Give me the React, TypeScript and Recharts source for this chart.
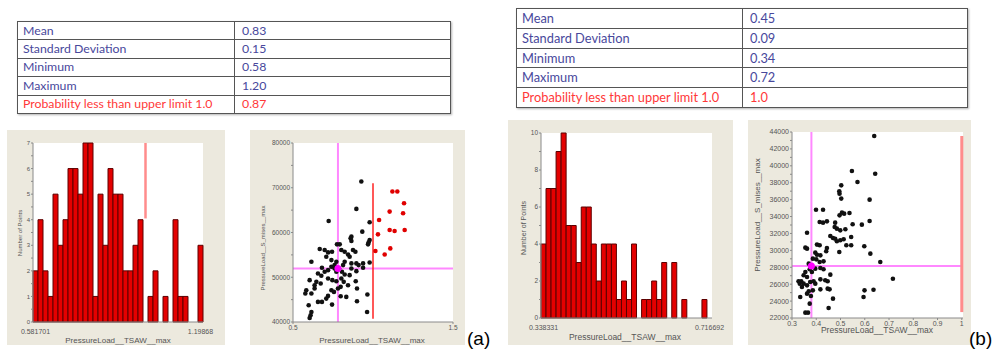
import React from 'react'
import { Bar, BarChart, ReferenceLine, Scatter, ScatterChart, XAxis, YAxis } from 'recharts'

const statLabels = ['Mean', 'Standard Deviation', 'Minimum', 'Maximum', 'Probability less than upper limit 1.0']
const statsA = ['0.83', '0.15', '0.58', '1.20', '0.87']
const statsB = ['0.45', '0.09', '0.34', '0.72', '1.0']

// histogram bin counts, left to right
const histACounts = [2, 4, 2, 1, 5, 3, 4, 6, 6, 5, 7, 7, 1, 5, 3, 6, 5, 5, 2, 2, 3, 4, 0, 1, 2, 0, 1, 0, 4, 1, 1, 0, 0, 3]
const histAEnds = ['0.581701', '1.19868']
const histBCounts = [4, 7, 7, 9, 10, 5, 5, 3, 6, 6, 4, 2, 4, 4, 4, 1, 2, 1, 4, 0, 1, 1, 2, 1, 3, 0, 3, 0, 1, 0, 0, 0, 1, 0]
const histBEnds = ['0.338331', '0.716692']

// scatter (a): TSAW max vs S mises max
const scatterABelow: [number, number][] = [
  [0.927, 71400], [0.896, 65270], [0.723, 62580], [0.979, 62280], [0.933, 60190], [0.865, 59070],
  [0.86, 58690], [0.865, 58100], [0.979, 58320], [0.973, 57800], [0.969, 57350], [0.775, 57350],
  [0.792, 57350], [0.667, 56300], [0.698, 56080], [0.719, 55550], [0.744, 55700], [0.802, 56080],
  [0.823, 55700], [0.875, 56080], [0.89, 55700], [0.844, 55100], [0.854, 54580], [0.615, 53460],
  [0.708, 54580], [0.74, 53830], [0.771, 53460], [0.823, 53460], [0.865, 53090], [0.896, 53090],
  [0.91, 52710], [0.938, 53090], [0.979, 53310], [0.865, 51960], [0.896, 51360], [0.938, 52110],
  [0.681, 52110], [0.698, 51220], [0.719, 51590], [0.74, 52340], [0.76, 51960], [0.771, 51220],
  [0.656, 50840], [0.677, 50320], [0.806, 51220], [0.823, 50620], [0.854, 50470], [0.604, 49350],
  [0.646, 48970], [0.673, 48600], [0.719, 49720], [0.746, 49350], [0.771, 49120], [0.802, 49720],
  [0.817, 48970], [0.844, 48220], [0.892, 49120], [0.635, 47480], [0.583, 47100], [0.577, 46360],
  [0.74, 47100], [0.756, 46730], [0.781, 47480], [0.798, 47850], [0.9, 47480], [0.615, 46360],
  [0.719, 45830], [0.708, 45230], [0.798, 45760], [0.833, 45610], [0.965, 46130], [0.656, 44490],
  [0.681, 44490], [0.598, 43740], [0.744, 43890], [0.9, 44640], [0.963, 42240], [0.615, 42240],
  [0.61, 41500], [0.604, 40900], [0.76, 52710], [0.788, 51960], [0.813, 52710], [0.635, 48220],
]
const scatterAAbove: [number, number][] = [
  [1.121, 69160], [1.152, 69160], [1.194, 66540], [1.104, 64670], [1.188, 64300], [1.038, 62800],
  [1.104, 60560], [1.135, 60340], [1.198, 60560], [1.031, 59590], [1.015, 55850], [1.073, 55100],
  [1.108, 56450],
]
const scatterAMean: [number, number] = [0.781, 51960]
const scatterALimit: [number, number, number] = [1.0, 40750, 71000]

// scatter (b)
const scatterBPoints: [number, number][] = [
  [0.639, 43530], [0.547, 39390], [0.643, 39070], [0.57, 38090], [0.503, 37690], [0.495, 36980],
  [0.496, 36710], [0.503, 36120], [0.62, 36000], [0.399, 34810], [0.428, 34810], [0.496, 34140],
  [0.506, 34460], [0.515, 34340], [0.537, 34420], [0.414, 33360], [0.428, 33280], [0.444, 33430],
  [0.478, 33280], [0.55, 33080], [0.588, 33040], [0.62, 33470], [0.476, 32760], [0.485, 32570],
  [0.499, 32370], [0.52, 32490], [0.362, 32090], [0.458, 31700], [0.469, 31460], [0.478, 31380],
  [0.485, 31070], [0.499, 31190], [0.513, 31310], [0.544, 31580], [0.524, 30600], [0.544, 30600],
  [0.598, 30480], [0.355, 30320], [0.362, 30200], [0.403, 30680], [0.414, 30600], [0.444, 30280],
  [0.441, 29890], [0.495, 29810], [0.396, 29730], [0.403, 29490], [0.417, 29410], [0.623, 29610],
  [0.386, 29020], [0.4, 28940], [0.414, 28620], [0.43, 28700], [0.664, 28620], [0.369, 28430],
  [0.378, 28030], [0.373, 27760], [0.396, 27840], [0.417, 27910], [0.43, 27760], [0.458, 27130],
  [0.355, 27440], [0.348, 27050], [0.362, 26850], [0.338, 26340], [0.348, 26060], [0.362, 25860],
  [0.375, 26260], [0.417, 26570], [0.437, 26460], [0.447, 26340], [0.455, 25390], [0.447, 25470],
  [0.389, 26340], [0.396, 26060], [0.716, 26650], [0.332, 26060], [0.341, 25670], [0.327, 26340],
  [0.417, 25390], [0.362, 24880], [0.378, 24600], [0.369, 25150], [0.386, 25270], [0.599, 25270],
  [0.636, 25350], [0.595, 24480], [0.469, 24290], [0.334, 24480], [0.373, 23700], [0.451, 23180],
  [0.355, 22630], [0.366, 22630], [0.382, 27440],
]
const scatterBMean: [number, number] = [0.38, 28150]
const scatterBLimit: [number, number, number] = [1.0, 22700, 43530]

const BEIGE = '#ece9de'
const AXIS = '#8a8a8a'
const TXT = '#555'
const FONT = 'Liberation Sans'

const toXY = (pts: [number, number][]) => pts.map(([x, y]) => ({ x, y }))
const dot = (color: string, r: number) => (p: any) => <circle cx={p.cx} cy={p.cy} r={r} fill={color} />

function StatsTable({ left, top, width, split, rowH, fontSize, values }: any) {
  return (
    <table
      style={{
        position: 'absolute', left, top, width, borderCollapse: 'collapse', fontFamily: 'Lato', fontSize,
        boxShadow: '1px 1px 2px rgba(0,0,0,0.3)', tableLayout: 'fixed',
      }}
    >
      <tbody>
        {statLabels.map((label, i) => {
          const color = i === statLabels.length - 1 ? '#ff3838' : '#48489c'
          const cell = { border: '1px solid #555', color, height: rowH, padding: 0, lineHeight: 1, boxSizing: 'border-box' as const }
          return (
            <tr key={label}>
              <td style={{ ...cell, width: split, paddingLeft: 5 }}>{label}</td>
              <td style={{ ...cell, paddingLeft: 7 }}>{values[i]}</td>
            </tr>
          )
        })}
      </tbody>
    </table>
  )
}

function Title({ x, y, size, text, vertical }: any) {
  return (
    <div
      style={{
        position: 'absolute', left: x, top: y, fontFamily: FONT, fontSize: size, color: TXT, whiteSpace: 'nowrap',
        transform: `translate(-50%, -50%)${vertical ? ' rotate(-90deg)' : ''}`,
      }}
    >
      {text}
    </div>
  )
}

function Panel({ left, top, width, height, plot, children }: any) {
  return (
    <div style={{ position: 'absolute', left, top, width, height, background: BEIGE }}>
      <div style={{ position: 'absolute', left: plot[0], top: plot[1], width: plot[2] - plot[0], height: plot[3] - plot[1], background: '#fff' }} />
      <div style={{ position: 'absolute', left: 0, top: 0 }}>{children}</div>
    </div>
  )
}

function Histogram({ left, top, width, height, plot, yW, xH, counts, ends, yTicks, yLabel, limit, tickSize }: any) {
  const data = counts.map((count: number, bin: number) => ({ bin, count }))
  const last = counts.length - 1
  return (
    <Panel left={left} top={top} width={width} height={height} plot={plot}>
      <BarChart
        width={width}
        height={height}
        data={data}
        barCategoryGap={0}
        margin={{ top: plot[1], right: width - plot[2], bottom: height - plot[3] - xH, left: plot[0] - yW }}
      >
        <XAxis
          dataKey="bin"
          height={xH}
          interval={0}
          tickLine={false}
          axisLine={{ stroke: AXIS }}
          tick={{ fontSize: 7, fill: TXT, fontFamily: FONT }}
          tickFormatter={(v: number) => (v === 0 ? ends[0] : v === last ? ends[1] : '')}
          tickMargin={1}
        />
        <YAxis
          width={yW}
          domain={[0, yTicks[yTicks.length - 1]]}
          ticks={yTicks}
          interval={0}
          tickSize={2}
          tickMargin={1}
          axisLine={{ stroke: AXIS }}
          tickLine={{ stroke: AXIS }}
          tick={{ fontSize: tickSize, fill: TXT, fontFamily: FONT }}
          tickFormatter={yLabel}
        />
        <Bar dataKey="count" fill="#e40000" stroke="#5c0000" strokeWidth={1} isAnimationActive={false} />
        {limit && (
          <ReferenceLine
            segment={[{ x: limit[0], y: limit[1] }, { x: limit[0], y: limit[2] }]}
            stroke="#ff8c8c"
            strokeWidth={2.5}
          />
        )}
      </BarChart>
    </Panel>
  )
}

function ScatterPanel({ left, top, width, height, plot, yW, xH, xDomain, xTicks, yDomain, yTicks, yStep, groups, mean, limit, tickSize }: any) {
  return (
    <Panel left={left} top={top} width={width} height={height} plot={plot}>
      <ScatterChart
        width={width}
        height={height}
        margin={{ top: plot[1], right: width - plot[2], bottom: height - plot[3] - xH, left: plot[0] - yW }}
      >
        <XAxis
          type="number"
          dataKey="x"
          domain={xDomain}
          ticks={xTicks}
          allowDataOverflow
          height={xH}
          tickSize={2}
          tickMargin={1}
          axisLine={{ stroke: AXIS }}
          tickLine={{ stroke: AXIS }}
          tick={{ fontSize: tickSize, fill: TXT, fontFamily: FONT }}
          tickFormatter={(v: number) => String(v)}
        />
        <YAxis
          type="number"
          dataKey="y"
          domain={yDomain}
          ticks={yTicks}
          interval={0}
          allowDataOverflow
          width={yW}
          tickSize={2}
          tickMargin={1}
          axisLine={{ stroke: AXIS }}
          tickLine={{ stroke: AXIS }}
          tick={{ fontSize: tickSize, fill: TXT, fontFamily: FONT }}
          tickFormatter={(v: number) => (v % yStep === 0 ? String(v) : '')}
        />
        <ReferenceLine x={mean[0]} stroke="#ff88ff" strokeWidth={2} />
        <ReferenceLine y={mean[1]} stroke="#ff88ff" strokeWidth={2} />
        <ReferenceLine
          segment={[{ x: limit[0], y: limit[1] }, { x: limit[0], y: limit[2] }]}
          stroke={limit[3]}
          strokeWidth={limit[4]}
        />
        {groups.map((g: any, i: number) => (
          <Scatter key={i} data={toXY(g.points)} shape={dot(g.color, 2.3)} isAnimationActive={false} />
        ))}
        <Scatter data={toXY([mean])} shape={dot('#ff00ff', 3.5)} isAnimationActive={false} />
      </ScatterChart>
    </Panel>
  )
}

const range = (a: number, b: number, s: number) => {
  const out: number[] = []
  for (let v = a; v <= b + 1e-9; v += s) out.push(Math.round(v * 100) / 100)
  return out
}

export default function App() {
  return (
    <div style={{ position: 'absolute', left: 0, top: 0, width: 1003, height: 353, background: '#fff', overflow: 'hidden' }}>
      <StatsTable left={17} top={21} width={434} split={217} rowH={18.4} fontSize={12.3} values={statsA} />
      <StatsTable left={516} top={8} width={452} split={226} rowH={19.8} fontSize={12.8} values={statsB} />

      <Histogram
        left={7} top={130} width={218} height={215} plot={[26, 13, 196, 192]} yW={14} xH={12}
        counts={histACounts} ends={histAEnds} yTicks={range(0, 7, 0.5)} tickSize={6}
        yLabel={(v: number) => (Number.isInteger(v) ? String(v) : '')}
        limit={[22, 4.05, 7]}
      />
      <Title x={118} y={340} size={8} text="PressureLoad__TSAW__max" />
      <Title x={20} y={233} size={6} text="Number of Points" vertical />

      <ScatterPanel
        left={250} top={130} width={215} height={215} plot={[43, 13, 203, 192]} yW={22} xH={12}
        xDomain={[0.5, 1.5]} xTicks={[0.5, 1.5]} yDomain={[40000, 80000]} yTicks={range(40000, 80000, 5000)} yStep={10000}
        groups={[{ points: scatterABelow, color: '#111' }, { points: scatterAAbove, color: '#e00000' }]}
        mean={scatterAMean} limit={[...scatterALimit, '#ff2020', 1.5]} tickSize={6.5}
      />
      <Title x={372} y={340} size={8} text="PressureLoad__TSAW__max" />
      <Title x={263} y={248} size={6} text="PressureLoad__S_mises__max" vertical />
      <div style={{ position: 'absolute', left: 467, top: 328, fontFamily: FONT, fontSize: 19, color: '#000' }}>(a)</div>

      <Histogram
        left={508} top={120} width={225} height={225} plot={[33, 13, 204, 198]} yW={16} xH={12}
        counts={histBCounts} ends={histBEnds} yTicks={range(0, 10, 1)} tickSize={6.5}
        yLabel={(v: number) => (v % 2 === 0 ? String(v) : '')}
      />
      <Title x={625} y={337} size={8.5} text="PressureLoad__TSAW__max" />
      <Title x={523} y={228} size={7} text="Number of Points" vertical />

      <ScatterPanel
        left={748} top={120} width={223} height={225} plot={[44, 12, 215, 198]} yW={24} xH={12}
        xDomain={[0.3, 1.005]} xTicks={[0.3, 0.4, 0.5, 0.6, 0.7, 0.8, 0.9, 1]} yDomain={[22000, 44000]}
        yTicks={range(22000, 44000, 1000)} yStep={2000}
        groups={[{ points: scatterBPoints, color: '#111' }]}
        mean={scatterBMean} limit={[...scatterBLimit, '#ff8c8c', 3]} tickSize={7}
      />
      <Title x={877} y={330} size={8.5} text="PressureLoad__TSAW__max" />
      <Title x={757} y={215} size={8} text="PressureLoad__S_mises__max" vertical />
      <div style={{ position: 'absolute', left: 969, top: 328, fontFamily: FONT, fontSize: 19, color: '#000' }}>(b)</div>
    </div>
  )
}
